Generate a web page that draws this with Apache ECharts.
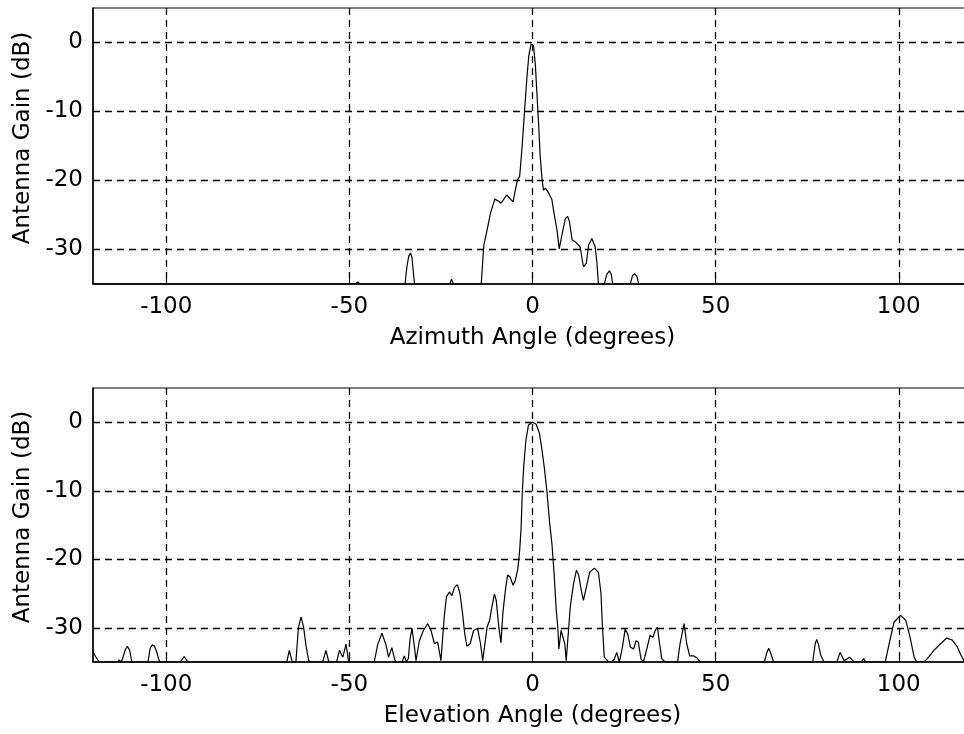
<!DOCTYPE html>
<html>
<head>
<meta charset="utf-8">
<script src="https://cdn.jsdelivr.net/npm/echarts@6/dist/echarts.min.js"></script>
<style>
html,body{margin:0;padding:0;background:#fff;}
#chart{width:964px;height:734px;}
</style>
</head>
<body>
<div id="chart"></div>
<script>
// ---- data ----
const xTicks = [-100, -50, 0, 50, 100];
const yTicks = [-30, -20, -10, 0];

const azAngle = [-120,-48.5,-47.7,-47.0,-34.8,-34.3,-33.8,-33.3,-32.9,-32.5,-32.2,-22.6,-22.1,-21.6,
  -14.0,-13.3,-12.4,-11.5,-10.3,-9.2,-8.6,-7.7,-7.0,-6.2,-5.3,-4.7,-4.1,-3.5,-2.9,-2.2,-1.5,-1.0,-0.4,
  0.0,0.3,0.8,1.2,1.7,2.1,2.6,3.0,3.5,4.4,5.3,5.9,6.7,7.3,7.8,8.3,9.0,9.6,10.1,10.8,11.7,13.0,13.9,
  14.7,15.3,16.2,17.1,17.6,18.0,19.6,20.3,21.0,21.5,21.9,26.7,27.3,27.9,28.5,29.0,120];
const azGain = [-35,-35,-34.7,-35,-35,-32.5,-31,-30.5,-31.2,-33.5,-35,-35,-34.3,-35,
  -35,-29.4,-27.2,-24.8,-22.7,-23.0,-23.3,-22.6,-22.1,-22.6,-23.1,-21.4,-19.9,-19.4,-15.5,-10.2,-4.9,-1.9,-0.2,
  0,-0.5,-3.4,-7.3,-12.1,-16.5,-19.8,-21.4,-21.1,-21.8,-22.8,-24.8,-27.2,-29.9,-30.1,-27.2,-25.5,-25.2,-26.0,-28.6,-28.9,-29.6,-32.5,
  -32.0,-29.4,-28.4,-29.6,-32.0,-35,-35,-33.6,-33.1,-33.6,-35,-35,-33.8,-33.5,-33.9,-35,-35];

const elAngle = [-120,-119.3,-118.3,-113.2,-112.9,-112.3,-111.8,-111.2,-110.6,-110.0,-109.4,
  -105.0,-104.4,-103.8,-103.2,-102.7,-101.8,-96.2,-95.1,-94.1,-74.2,-73.9,-73.6,-70.8,-70.5,-70.2,
  -67.1,-66.4,-65.6,-64.6,-63.9,-63.2,-62.5,-61.8,-61.1,-60.5,-57.3,-56.4,-55.6,-53.5,-52.7,-51.8,-50.9,-50.2,
  -43.2,-42.3,-41.1,-40.0,-39.3,-38.4,-37.7,-37.3,-35.6,-35.0,-34.4,-33.9,-33.4,-32.9,-32.3,-31.8,
  -30.9,-29.8,-28.6,-27.7,-26.8,-25.9,-25.0,-24.1,-23.5,-22.7,-22.0,-21.3,-20.5,-19.8,-19.1,-18.5,-17.9,
  -17.0,-16.1,-15.0,-14.2,-13.6,-13.1,-12.4,-11.7,-11.1,-10.4,-9.9,-9.2,-8.6,-8.1,-7.4,-6.8,-6.1,-5.3,
  -4.7,-4.0,-3.5,-3.1,-2.8,-2.4,-1.8,-1.1,0.0,1.0,1.9,2.6,3.2,3.9,4.7,5.3,5.9,6.5,6.9,7.2,7.8,8.3,8.8,9.2,
  9.9,10.3,11.2,12.0,12.6,13.3,13.9,14.7,15.6,16.9,18.0,18.7,19.1,19.6,20.1,20.8,21.7,22.4,23.0,23.7,
  24.5,25.3,26.0,26.7,27.6,28.3,28.9,29.6,30.3,31.2,32.1,32.9,33.5,34.1,34.7,35.3,36.2,39.6,40.3,41.4,
  42.1,42.9,43.9,44.9,45.8,61.0,61.4,61.8,63.3,64.0,64.5,65.1,65.8,76.5,77.2,77.6,78.1,78.7,79.6,
  83.1,84.0,85.1,86.6,87.8,89.8,90.4,91.0,96.3,97.4,98.7,100.5,101.9,103.1,104.2,104.9,106.9,107.8,
  109.6,111.5,113.1,114.6,116.0,116.9,117.8,118.5,120];
const elGain = [-33.5,-34.2,-35,-35,-34.7,-35,-34.3,-33.2,-32.7,-33.3,-35,
  -35,-33.0,-32.5,-32.7,-33.4,-35,-35,-34.2,-35,-35,-34.8,-35,-35,-34.8,-35,
  -35,-33.3,-35,-35,-29.9,-28.4,-29.9,-32.8,-34.8,-35,-35,-33.3,-35,-35,-33.3,-34.3,-32.4,-35,
  -35,-32.5,-30.8,-32.5,-34.3,-32.9,-34.5,-35,-35,-34.1,-35,-34.5,-31.5,-30.1,-32.5,-34.8,
  -31.9,-30.4,-29.4,-30.4,-32.3,-32.1,-34.8,-28.4,-25.5,-24.8,-25.3,-24.1,-23.7,-25.0,-27.9,-30.9,-32.7,
  -32.3,-30.4,-30.1,-32.3,-34.8,-34.8,-29.9,-28.9,-27.0,-25.1,-26.0,-29.9,-32.2,-27.9,-24.5,-22.3,-22.6,-23.8,
  -23.1,-21.4,-18.7,-15.3,-10.4,-6.5,-2.6,-0.4,0,-0.3,-1.6,-4.1,-6.5,-9.9,-14.8,-17.7,-22.1,-27.5,-29.9,-33.1,-30.4,-30.4,-32.3,-34.8,
  -29.9,-27.0,-23.6,-21.6,-22.3,-24.5,-26.0,-24.1,-21.9,-21.3,-21.9,-25.0,-29.9,-34.3,-34.1,-35,-35,-34.5,-33.6,-35,
  -33.0,-30.2,-30.9,-32.8,-33.1,-31.9,-32.1,-34.5,-35,-33.1,-31.1,-31.4,-30.4,-29.9,-32.3,-34.5,-35,-35,-32.3,-29.4,
  -32.3,-34.1,-34.1,-34.4,-35,-35,-34.8,-35,-35,-33.6,-33.0,-33.8,-35,-35,-32.3,-31.7,-32.5,-34.0,-35,
  -35,-33.6,-34.8,-34.3,-35,-35,-34.5,-35,-35,-32.3,-29.2,-28.2,-28.9,-31.4,-34.3,-35,-35,-34.5,
  -33.3,-32.3,-31.5,-31.8,-32.8,-33.9,-34.8,-35,-35];

const azTitle = 'Azimuth Angle (degrees)';
const elTitle = 'Elevation Angle (degrees)';
const yTitle = 'Antenna Gain (dB)';

// ---- chart ----
const FONT = 'DejaVu Sans';
const zip = (a, b) => a.map((v, i) => [v, b[i]]);
const dashed = { show: true, lineStyle: { color: '#000', width: 1.3, type: [7, 5] } };

function xAxis(idx, name) {
  return {
    type: 'value', gridIndex: idx, min: -120, max: 120,
    name: name, nameLocation: 'middle', nameGap: 43,
    nameTextStyle: { fontFamily: FONT, fontSize: 23, color: '#000' },
    axisLine: { show: true, onZero: false, lineStyle: { color: '#000', width: 1.5 } },
    axisTick: { show: true, inside: true, length: 5, customValues: xTicks, lineStyle: { color: '#000' } },
    axisLabel: { customValues: xTicks, fontFamily: FONT, fontSize: 23, color: '#000', margin: 12 },
    splitLine: dashed
  };
}
function yAxis(idx) {
  return {
    type: 'value', gridIndex: idx, min: -35, max: 5,
    name: yTitle, nameLocation: 'middle', nameGap: 54,
    nameTextStyle: { fontFamily: FONT, fontSize: 23, color: '#000', padding: [0, 0, 0, 16] },
    axisLine: { show: true, onZero: false, lineStyle: { color: '#000', width: 1.5 } },
    axisTick: { show: true, inside: true, length: 5, customValues: yTicks, lineStyle: { color: '#000' } },
    axisLabel: { customValues: yTicks, fontFamily: FONT, fontSize: 23, color: '#000', margin: 10 },
    splitLine: dashed
  };
}

const chart = echarts.init(document.getElementById('chart'), null, { renderer: 'canvas' });
chart.setOption({
  backgroundColor: '#fff',
  animation: false,
  grid: [
    { left: 93, top: 8, width: 879, height: 276, show: true, borderColor: '#000', borderWidth: 1,
      containLabel: false, outerBoundsMode: 'none' },
    { left: 93, top: 388, width: 879, height: 274, show: true, borderColor: '#000', borderWidth: 1,
      containLabel: false, outerBoundsMode: 'none' }
  ],
  xAxis: [xAxis(0, azTitle), xAxis(1, elTitle)],
  yAxis: [yAxis(0), yAxis(1)],
  series: [
    { type: 'line', xAxisIndex: 0, yAxisIndex: 0, data: zip(azAngle, azGain), showSymbol: false,
      lineStyle: { color: '#000', width: 1.2 }, clip: true, z: 3 },
    { type: 'line', xAxisIndex: 1, yAxisIndex: 1, data: zip(elAngle, elGain), showSymbol: false,
      lineStyle: { color: '#000', width: 1.2 }, clip: true, z: 3 }
  ]
});
</script>
</body>
</html>
